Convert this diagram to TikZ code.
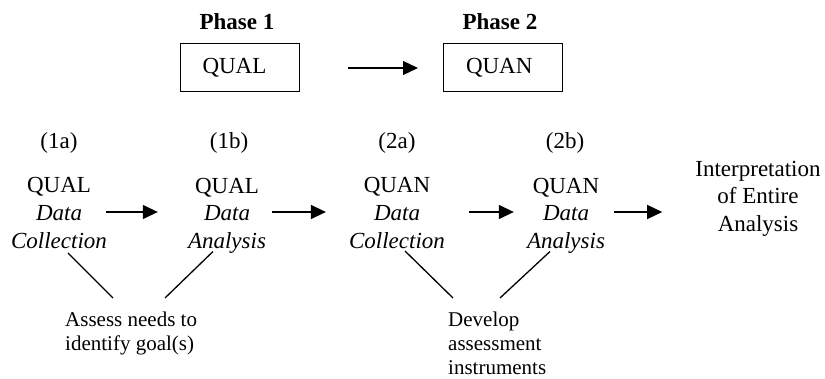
\documentclass[tikz,border=0pt]{standalone}
\usepackage{fontspec}
\setmainfont{Liberation Serif}
\usetikzlibrary{arrows.meta,calc}
\begin{document}
\begin{tikzpicture}[x=1pt,y=-1pt,
  main/.style={inner sep=0pt,align=center,font=\fontsize{23}{27.6}\selectfont},
  lab/.style={inner sep=0pt,font=\fontsize{23}{27.6}\selectfont},
  phase/.style={inner sep=0pt,font=\fontsize{23}{27.6}\selectfont\bfseries},
  pbox/.style={draw,line width=1pt,minimum height=48pt,inner xsep=22.5pt,inner ysep=0pt,text width=74pt,align=left,font=\fontsize{23}{27.6}\selectfont},
  note/.style={inner sep=0pt,align=left,anchor=north west,font=\fontsize{21}{24}\selectfont},
  arr/.style={line width=1.3pt,-{Triangle[length=15pt,width=14pt]}},
  conn/.style={line width=1.3pt}]
\useasboundingbox (0,0) rectangle (825,379);
% top row
\node[phase] (ph1) at (237,22) {Phase 1};
\node[phase] (ph2) at (500,22) {Phase 2};
\node[pbox] (qual) at (239.5,68) {QUAL};
\node[pbox] (quan) at (503,68) {QUAN};
\draw[arr,shorten <=48pt,shorten >=25pt] (qual.east) -- (quan.west);
% labels
\node[lab] (l1a) at (59,143) {(1a)};
\node[lab] (l1b) at (229,143) {(1b)};
\node[lab] (l2a) at (397,143) {(2a)};
\node[lab] (l2b) at (565,143) {(2b)};
% columns
\node[main] (c1a) at (59,213) {QUAL\\\textit{Data}\\\textit{Collection}};
\node[main] (c1b) at (227,215.5) {QUAL\\\textit{Data}\\\textit{Analysis}};
\node[main] (c2a) at (397,213) {QUAN\\\textit{Data}\\\textit{Collection}};
\node[main] (c2b) at (566,215.5) {QUAN\\\textit{Data}\\\textit{Analysis}};
\node[main] (interp) at (758,198.5) {Interpretation\\of Entire\\Analysis};
% arrows
\draw[arr] ($(c1a.east |- 0,212)+(-1,0)$) -- ($(c1b.west |- 0,212)+(-30,0)$);
\draw[arr] ($(c1b.east |- 0,212)+(6,0)$) -- ($(c2a.west |- 0,212)+(-23,0)$);
\draw[arr] ($(c2a.east |- 0,212)+(24,0)$) -- ($(c2b.west |- 0,212)+(-13,0)$);
\draw[arr] ($(c2b.east |- 0,212)+(9,0)$) -- ($(interp.west |- 0,212)+(-33,0)$);
% notes
\node[note] (assess) at (65,312) {Assess needs to\\identify goal(s)};
\node[note] (develop) at (448,312) {Develop\\assessment\\instruments};
\draw[conn] ($(c1a.center)+(9,40)$) -- ($(assess.north west)+(48,-14)$);
\draw[conn] ($(c1b.center)+(-14,36)$) -- ($(assess.north west)+(100,-14)$);
\draw[conn] ($(c2a.center)+(8,38)$) -- ($(develop.north west)+(5,-14)$);
\draw[conn] ($(c2b.center)+(-16,36)$) -- ($(develop.north west)+(52,-14)$);
\end{tikzpicture}
\end{document}
